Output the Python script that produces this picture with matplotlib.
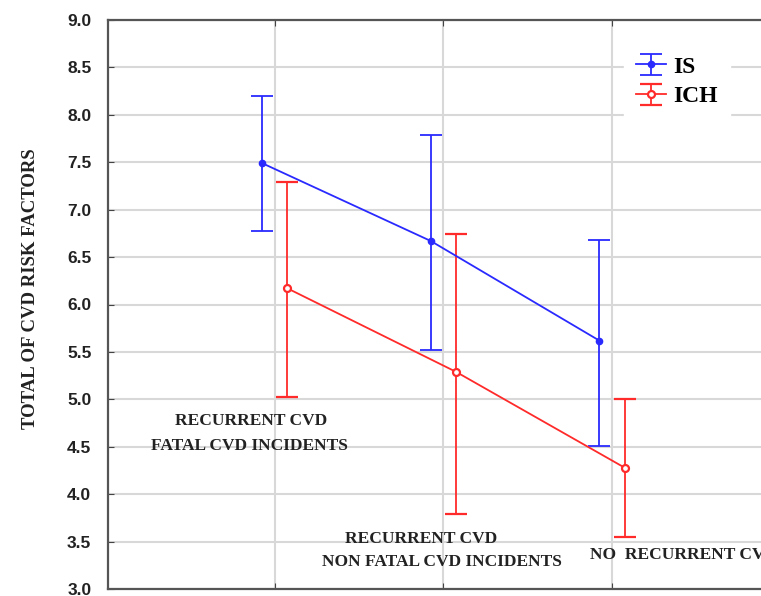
import matplotlib.pyplot as plt
from matplotlib.legend_handler import HandlerErrorbar

# ---------- DATA ----------
groups = [1, 2, 3]
is_mean = [7.49, 6.67, 5.62]
is_low = [6.77, 5.52, 4.51]
is_high = [8.20, 7.79, 6.68]

ich_mean = [6.17, 5.29, 4.28]
ich_low = [5.02, 3.79, 3.55]
ich_high = [7.29, 6.74, 5.00]

yticks = [3.0, 3.5, 4.0, 4.5, 5.0, 5.5, 6.0, 6.5, 7.0, 7.5, 8.0, 8.5, 9.0]

SERIF = ["Liberation Serif", "DejaVu Serif"]

fig = plt.figure(figsize=(7.61, 5.96), dpi=100)
ax = fig.add_axes([108 / 761, 7 / 596, 1.0 - 108 / 761 + 0.01, 569 / 596])

shift = 0.075
x_is = [g - shift for g in groups]
x_ich = [g + shift for g in groups]

err_is = [[m - lo for m, lo in zip(is_mean, is_low)], [hi - m for m, hi in zip(is_mean, is_high)]]
err_ich = [[m - lo for m, lo in zip(ich_mean, ich_low)], [hi - m for m, hi in zip(ich_mean, ich_high)]]

h_is = ax.errorbar(x_is, is_mean, yerr=err_is, color="#2a2aff", lw=1.3, elinewidth=1.3,
                   capsize=8, capthick=1.3, marker="o", ms=4.5, mfc="#2a2aff", mec="#2a2aff",
                   zorder=3, label="IS")
h_ich = ax.errorbar(x_ich, ich_mean, yerr=err_ich, color="#ff2a2a", lw=1.3, elinewidth=1.3,
                    capsize=8, capthick=1.3, marker="o", ms=5, mfc="white", mec="#ff2a2a",
                    mew=1.6, zorder=3, label="ICH")

ax.set_xlim(0.01, 3.93)
ax.set_ylim(3.0, 9.0)
ax.set_yticks(yticks)
ax.set_yticklabels([f"{v:.1f}" for v in yticks], family="Liberation Sans", fontsize=12.5,
                   fontweight="bold", color="#222222")
ax.set_xticks(groups)
ax.set_xticklabels([])
ax.tick_params(axis="x", direction="in", top=True, length=4, color="#444444")
ax.tick_params(axis="y", direction="in", length=4, color="#444444", pad=12)
ax.grid(True, color="#d8d8d8", lw=1.5)
ax.set_axisbelow(True)
for s in ["left", "top", "bottom"]:
    ax.spines[s].set_color("#555555")
    ax.spines[s].set_linewidth(1.6)
ax.spines["right"].set_visible(False)

ax.set_ylabel("TOTAL OF CVD RISK FACTORS", family=SERIF, fontweight="bold",
              fontsize=13.5, color="#222222")
ax.yaxis.set_label_coords(-0.104, 0.527)

# category labels placed inside the plot
lab = dict(family=SERIF, fontweight="bold", fontsize=12.5, color="#222222")
ax.text(0.86, 4.77, "RECURRENT CVD", ha="center", va="center", **lab)
ax.text(0.85, 4.51, "FATAL CVD INCIDENTS", ha="center", va="center", **lab)
ax.text(1.87, 3.53, "RECURRENT CVD", ha="center", va="center", **lab)
ax.text(1.99, 3.28, "NON FATAL CVD INCIDENTS", ha="center", va="center", **lab)
ax.text(2.87, 3.36, "NO  RECURRENT CVD", ha="left", va="center", clip_on=True, **lab)

leg = ax.legend(handles=[h_is, h_ich], loc="upper left", bbox_to_anchor=(0.763, 0.978),
                frameon=True, fancybox=False, edgecolor="white", framealpha=1,
                prop=dict(family=SERIF, weight="bold", size=17), handlelength=1.3,
                handletextpad=0.3, labelspacing=0.35, borderpad=0.5,
                handler_map={type(h_is): HandlerErrorbar(xerr_size=0.5, yerr_size=0.45)})

fig.savefig("out.png", dpi=100)
